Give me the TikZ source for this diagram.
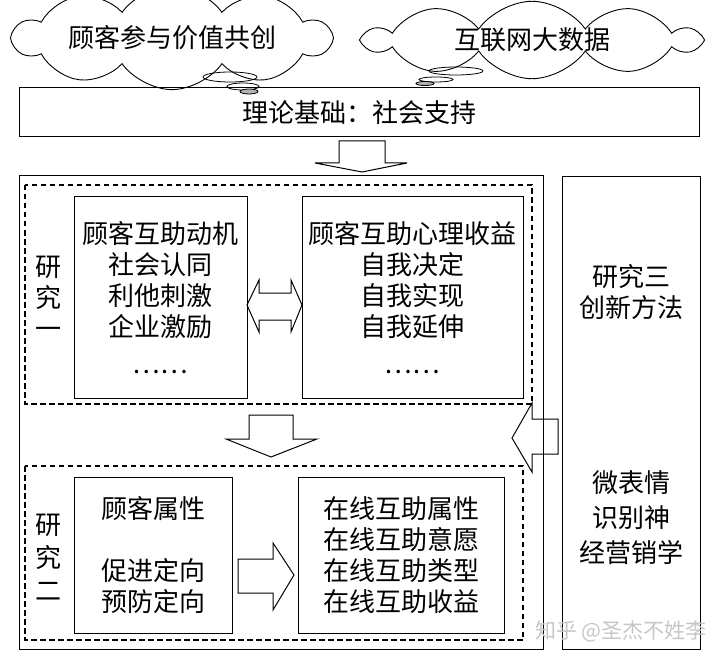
\documentclass[tikz,border=0pt]{standalone}
\usepackage{fontspec}
\setmainfont{Noto Sans CJK SC}
\usetikzlibrary{shapes.symbols}

\newcommand{\boxfont}{\fontsize{26pt}{31pt}\selectfont}
\tikzset{
  box/.style={draw,line width=1pt,inner sep=0pt,align=center,font=\boxfont},
  dbox/.style={draw,line width=1.2pt,dash pattern=on 5.5pt off 3.5pt},
  blockarrow/.style={draw,line width=1pt,line join=miter},
  puff/.style={draw,line width=0.9pt,cloud,cloud puffs=10,cloud puff arc=110,aspect=5,inner sep=0pt,font=\boxfont},
  label/.style={inner sep=0pt,align=center,font=\boxfont}
}

\begin{document}
\begin{tikzpicture}[x=1pt,y=-1pt]
\useasboundingbox (0,0) rectangle (728,663);

  % clouds
  \node[puff,minimum width=316pt,minimum height=58pt] (cloudL) at (172,38) {顾客参与价值共创};
  \node[puff,minimum width=332pt,minimum height=50pt] (cloudR) at (532,40) {互联网大数据};
  \draw[line width=0.8pt] (230,77) ellipse (27pt and 5pt);
  \draw[line width=0.8pt] (243,86.5) ellipse (16pt and 3.5pt);
  \draw[line width=0.8pt,fill=gray!60] (249,91.5) ellipse (9pt and 2.5pt);
  \draw[line width=0.8pt] (456,71) ellipse (27pt and 4pt);
  \draw[line width=0.8pt] (436,79.5) ellipse (17pt and 2.5pt);
  \draw[line width=0.8pt,fill=gray!60] (425,83.5) ellipse (9pt and 2pt);

  \node[box,minimum width=680pt,minimum height=49pt] (base) at (359,112.5) {理论基础：社会支持};

  % block arrows
  \draw[blockarrow] (339,141)--(385,141)--(385,163)--(407,163)--(362,172)--(315,163)--(339,163)--cycle;
  \draw[blockarrow] (512,438)--(532,403)--(532,419)--(558,419)--(558,454)--(532,454)--(532,472)--cycle;

  \node[box,minimum width=524pt,minimum height=473pt] (main) at (281,412.5) {};
  \node[box,minimum width=138pt,minimum height=472pt] (study3) at (631,413) {};
  \node[label] (method) at (631,292.5) {研究三\\创新方法};
  \node[label,font=\fontsize{26pt}{35pt}\selectfont] (field) at (631,518) {微表情\\识别神\\经营销学};

  % study one
  \draw[dbox] (25,185) rectangle (532,404);
  \node[label] (s1) at (48,297) {研\\究\\一};
  \node[box,minimum width=173pt,minimum height=201pt] (motive) at (160.5,297.5)
    {顾客互助动机\\社会认同\\利他刺激\\企业激励\\[6pt]……};
  \node[box,minimum width=221pt,minimum height=201pt] (benefit) at (412.5,297.5)
    {顾客互助心理收益\\自我决定\\自我实现\\自我延伸\\[6pt]……};
  \draw[blockarrow] (247,305)--(259,280)--(259,293)--(291,293)--(291,280)--(302,305)
    --(291,332)--(291,320)--(259,320)--(259,332)--cycle;

  \draw[blockarrow] (249,415)--(293,415)--(293,439)--(317,439)--(271,457)--(226,439)--(249,439)--cycle;

  % study two
  \draw[dbox] (25,466) rectangle (523,640);
  \node[label,font=\fontsize{26pt}{33pt}\selectfont] (s2) at (48,557) {研\\究\\二};
  \node[box,minimum width=158pt,minimum height=156pt] (attr) at (153,555)
    {顾客属性\\[31pt]促进定向\\预防定向};
  \node[box,minimum width=206pt,minimum height=156pt] (online) at (401,555)
    {在线互助属性\\在线互助意愿\\在线互助类型\\在线互助收益};
  \draw[blockarrow] (238,559)--(273,559)--(273,543)--(294,575)--(273,610)--(273,593)--(238,593)--cycle;

  \node[inner sep=0pt,text=gray!45,font=\fontsize{21pt}{24pt}\selectfont] (mark) at (621,631) {知乎 @圣杰不姓李};
\end{tikzpicture}
\end{document}
